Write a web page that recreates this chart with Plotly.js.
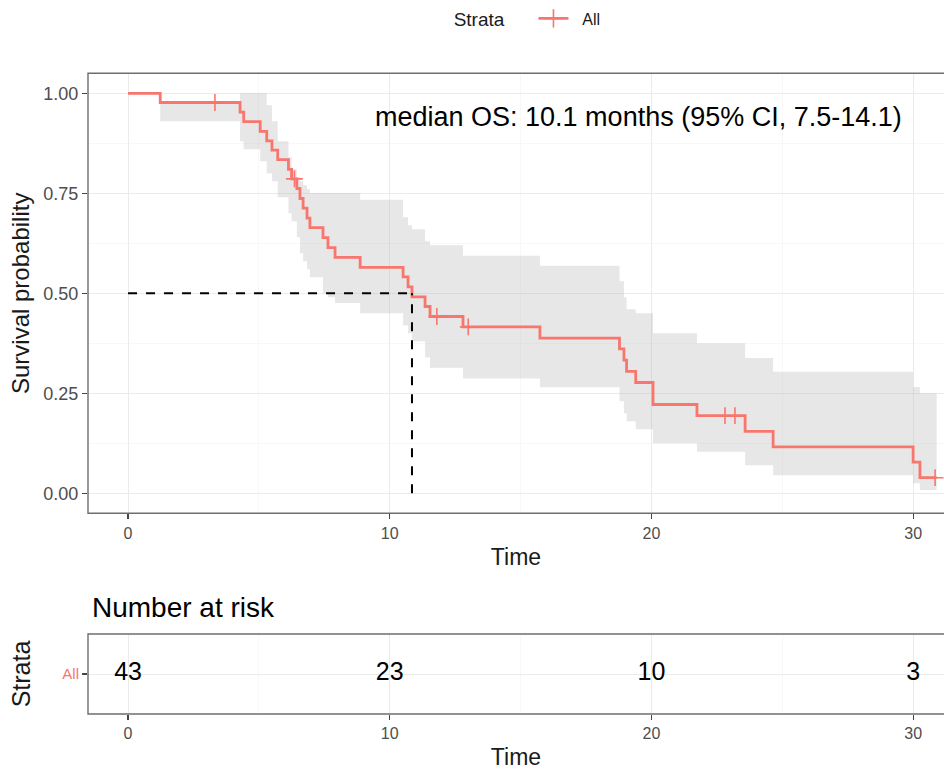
<!DOCTYPE html>
<html>
<head>
<meta charset="utf-8">
<script src="https://cdn.plot.ly/plotly-3.0.1.min.js"></script>
<style>html,body{margin:0;padding:0;background:#fff;} #chart{width:944px;height:770px;}</style>
</head>
<body>
<div id="chart"></div>
<script>
// Kaplan-Meier step curve (time at which each level starts, survival level)
var kmTime = [0, 1.23, 4.28, 4.42, 5.05, 5.3, 5.5, 5.72, 6.13, 6.25, 6.45, 6.57, 6.69, 6.84, 6.95, 7.45, 7.64, 7.91, 8.87, 10.51, 10.7, 10.85, 11.35, 11.54, 12.8, 15.74, 18.78, 18.95, 19.05, 19.4, 20.06, 21.74, 23.58, 24.65, 30.0, 30.26, 30.9];
var kmSurv = [1, 0.977, 0.953, 0.929, 0.905, 0.881, 0.858, 0.834, 0.810, 0.786, 0.762, 0.737, 0.713, 0.688, 0.664, 0.639, 0.614, 0.590, 0.565, 0.541, 0.516, 0.491, 0.467, 0.442, 0.416, 0.388, 0.361, 0.333, 0.305, 0.277, 0.222, 0.194, 0.155, 0.116, 0.078, 0.039, 0.039];
// confidence band (same step times)
var ciUpper = [1, 0.977, 1.0, 1.0, 1.0, 0.97, 0.93, 0.88, 0.84, 0.81, 0.79, 0.78, 0.77, 0.76, 0.751, 0.751, 0.751, 0.751, 0.734, 0.69, 0.67, 0.66, 0.63, 0.62, 0.594, 0.569, 0.53, 0.49, 0.46, 0.45, 0.40, 0.375, 0.338, 0.304, 0.266, 0.25, 0.25];
var ciLower = [1, 0.93, 0.88, 0.86, 0.83, 0.80, 0.78, 0.74, 0.70, 0.68, 0.64, 0.60, 0.58, 0.56, 0.54, 0.50, 0.49, 0.476, 0.45, 0.42, 0.40, 0.38, 0.34, 0.314, 0.287, 0.265, 0.23, 0.20, 0.18, 0.16, 0.125, 0.104, 0.07, 0.045, 0.025, 0.008, 0.008];
// censored observations
var censTime = [3.32, 6.36, 11.8, 13.0, 22.81, 23.19, 30.84];
var censSurv = [0.977, 0.786, 0.442, 0.416, 0.194, 0.194, 0.039];
// median survival marker
var medianTime = 10.85;
var medianSurv = 0.5;
// number at risk table
var riskTime = [0, 10, 20, 30];
var riskCount = [43, 23, 10, 3];
var strata = ['All'];

var red = '#F8766D';
var FONT = 'Liberation Sans, Arial, sans-serif';
var TXT = '#1a1a1a';
var NB = '\u00a0';
var xr = [-1.53, 31.18];

var traces = [
  {x: kmTime, y: ciLower, type: 'scatter', mode: 'lines', line: {shape: 'hv', width: 0}, showlegend: false, hoverinfo: 'skip'},
  {x: kmTime, y: ciUpper, type: 'scatter', mode: 'lines', line: {shape: 'hv', width: 0}, fill: 'tonexty', fillcolor: 'rgba(175,175,175,0.3)', showlegend: false, hoverinfo: 'skip'},
  {x: kmTime, y: kmSurv, type: 'scatter', mode: 'lines', line: {shape: 'hv', color: red, width: 2.8}, name: 'All', showlegend: false},
  {x: censTime, y: censSurv, type: 'scatter', mode: 'markers', marker: {symbol: 'cross-thin', size: 12, line: {color: red, width: 1.6}, color: red}, showlegend: false, hoverinfo: 'skip'},
  {x: [null], y: [null], type: 'scatter', mode: 'lines+markers', name: NB + NB + strata[0], line: {color: red, width: 2.8}, marker: {symbol: 'cross-thin', size: 13, line: {color: red, width: 1.6}, color: red}, showlegend: true},
  {x: riskTime, y: riskTime.map(function(){return strata[0];}), text: riskCount.map(String), type: 'scatter', mode: 'text', textfont: {family: FONT, size: 25, color: '#000'}, xaxis: 'x2', yaxis: 'y2', showlegend: false, hoverinfo: 'skip'}
];

var H = 770;
function dom(top, bottom){ return [(H-bottom)/H, (H-top)/H]; }

function xAxis(anchor, standoff){
  return {
    domain: [0, 1], anchor: anchor,
    range: xr, showline: false, zeroline: false, ticks: 'outside', ticklen: 5, tickwidth: 1.2, tickcolor: '#444',
    tickfont: {family: FONT, size: 16, color: '#4d4d4d'},
    showgrid: true, gridcolor: '#ebebeb', gridwidth: 1,
    minor: {showgrid: true, gridcolor: '#f3f3f3', gridwidth: 0.6, dtick: 5, ticks: ''},
    tick0: 0, dtick: 10,
    title: {text: 'Time', font: {family: FONT, size: 23, color: TXT}, standoff: standoff}
  };
}

var layout = {
  width: 944, height: 770,
  margin: {l: 88, r: 0, t: 0, b: 0, autoexpand: false},
  paper_bgcolor: '#fff', plot_bgcolor: '#fff',
  font: {family: FONT},
  showlegend: true,
  legend: {orientation: 'h', xref: 'container', yref: 'container', x: 0.56, xanchor: 'center', y: 0.998, yanchor: 'top',
           title: {text: 'Strata' + NB + NB + NB + NB, font: {family: FONT, size: 19, color: TXT}, side: 'left'},
           font: {family: FONT, size: 16, color: TXT}, itemwidth: 30, bgcolor: 'rgba(0,0,0,0)'},
  xaxis: xAxis('y', 8),
  yaxis: {domain: dom(73.3, 513.3), anchor: 'x', range: [-0.05, 1.05], tick0: 0, dtick: 0.25, tickformat: '.2f',
          showline: false, zeroline: false, ticks: 'outside', ticklen: 5, tickwidth: 1.2, tickcolor: '#444',
          tickfont: {family: FONT, size: 18, color: '#4d4d4d'},
          showgrid: true, gridcolor: '#ebebeb', gridwidth: 1,
          minor: {showgrid: true, gridcolor: '#f3f3f3', gridwidth: 0.6, dtick: 0.125, ticks: ''},
          title: {text: 'Survival probability', font: {family: FONT, size: 24, color: TXT}, standoff: 6}},
  xaxis2: xAxis('y2', 12),
  yaxis2: {domain: dom(634, 714), anchor: 'x2', type: 'category', categoryarray: strata, range: [-0.5, 0.5],
           showline: false, zeroline: false, ticks: 'outside', ticklen: 5, tickwidth: 1.2, tickcolor: '#444',
           tickfont: {family: FONT, size: 15, color: red},
           showgrid: true, gridcolor: '#ebebeb',
           title: {text: 'Strata', font: {family: FONT, size: 25, color: TXT}, standoff: 24}},
  shapes: [
    {type: 'line', xref: 'x', yref: 'y', x0: 0, x1: medianTime, y0: medianSurv, y1: medianSurv, line: {color: '#000', width: 2, dash: 'dash'}},
    {type: 'line', xref: 'x', yref: 'y', x0: medianTime, x1: medianTime, y0: 0, y1: medianSurv, line: {color: '#000', width: 2, dash: 'dash'}},
    {type: 'rect', xref: 'x domain', yref: 'y domain', x0: 0, x1: 1.01, y0: 0, y1: 1, line: {color: '#6e6e6e', width: 1.4}, fillcolor: 'rgba(0,0,0,0)', layer: 'above'},
    {type: 'rect', xref: 'x2 domain', yref: 'y2 domain', x0: 0, x1: 1.01, y0: 0, y1: 1, line: {color: '#6e6e6e', width: 1.4}, fillcolor: 'rgba(0,0,0,0)', layer: 'above'}
  ],
  annotations: [
    {xref: 'x', yref: 'y', x: 19.5, y: 0.94, xanchor: 'center', yanchor: 'middle', showarrow: false,
     text: 'median OS: 10.1 months (95% CI, 7.5-14.1)', font: {family: FONT, size: 27, color: '#000'}},
    {xref: 'paper', yref: 'paper', x: 0.002, y: (H-607)/H, xanchor: 'left', yanchor: 'middle', showarrow: false,
     text: 'Number at risk', font: {family: FONT, size: 28, color: '#000'}}
  ]
};

Plotly.newPlot('chart', traces, layout, {displayModeBar: false, staticPlot: true});
</script>
</body>
</html>
